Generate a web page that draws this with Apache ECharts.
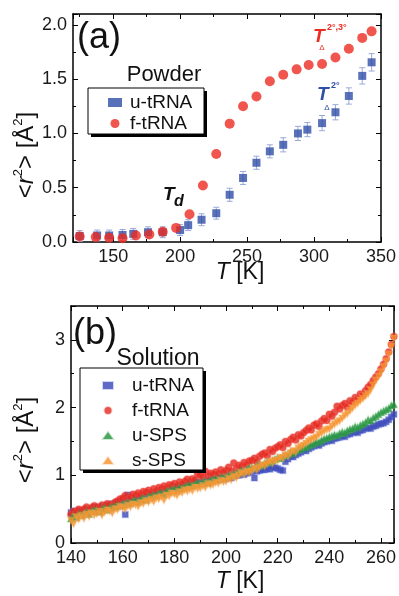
<!DOCTYPE html>
<html><head><meta charset="utf-8">
<script src="https://cdn.jsdelivr.net/npm/echarts@6/dist/echarts.min.js"></script>
<style>html,body{margin:0;padding:0;background:#fff}#c{width:399px;height:596px}</style>
</head><body><div id="c"></div>
<script>
// ---------- Panel (a): Powder ----------
const powderTempU = [125,138,147,157,165,176,187,200,206,216,227,237,247,257,267,277,288,295,306,316,326,336,343];
const powderU     = [0.055,0.06,0.06,0.065,0.075,0.09,0.09,0.11,0.155,0.205,0.265,0.435,0.59,0.73,0.835,0.895,1.0,1.035,1.095,1.195,1.345,1.53,1.655];
const powderErrU  = [0.05,0.05,0.05,0.05,0.05,0.05,0.05,0.05,0.05,0.055,0.055,0.06,0.06,0.06,0.06,0.065,0.065,0.065,0.07,0.07,0.075,0.075,0.08];
const powderTempF = [125,137,147,157,167,177,187,197,207,217,227,237,247,257,267,277,287,296,306,316,326,336,343];
const powderF     = [0.05,0.045,0.04,0.035,0.06,0.07,0.095,0.13,0.255,0.52,0.81,1.09,1.25,1.34,1.48,1.54,1.59,1.63,1.64,1.70,1.78,1.88,1.94];

// ---------- Panel (b): Solution ----------
const solTemp = [140,141,142,143,144,145,146,147,148,149,150,151,152,153,154,155,156,157,158,159,
160,161,162,163,164,165,166,167,168,169,170,171,172,173,174,175,176,177,178,179,
180,181,182,183,184,185,186,187,188,189,190,191,192,193,194,195,196,197,198,199,
200,201,202,203,204,205,206,207,208,209,210,211,212,213,214,215,216,217,218,219,
220,221,222,223,224,225,226,227,228,229,230,231,232,233,234,235,236,237,238,239,
240,241,242,243,244,245,246,247,248,249,250,251,252,253,254,255,256,257,258,259,
260,261,262,263,264,265];
const solUtRNA = [0.45,0.47,0.44,0.48,0.46,0.47,0.50,0.48,0.51,0.53,
0.52,0.50,0.54,0.53,0.56,0.55,0.58,0.57,0.60,0.59,
0.62,0.42,0.71,0.63,0.64,0.65,0.67,0.66,0.69,0.68,
0.70,0.72,0.71,0.74,0.73,0.75,0.77,0.76,0.79,0.78,
0.80,0.82,0.81,0.83,0.85,0.84,0.86,0.87,0.88,0.90,
0.88,0.89,0.91,0.90,0.93,0.92,0.94,0.93,0.96,0.95,
0.95,0.97,0.96,0.99,1.00,1.00,1.02,1.01,1.03,1.04,
1.05,0.96,1.06,1.07,1.08,1.08,1.10,1.09,1.12,1.11,
1.10,1.08,1.07,1.20,1.24,1.28,1.27,1.30,1.32,1.34,
1.37,1.36,1.39,1.41,1.43,1.45,1.44,1.47,1.49,1.50,
1.52,1.51,1.54,1.55,1.56,1.58,1.57,1.60,1.61,1.63,
1.64,1.63,1.66,1.67,1.69,1.70,1.69,1.72,1.73,1.75,
1.76,1.77,1.79,1.82,1.86,1.90];
const solFtRNA = [0.42,0.47,0.45,0.50,0.48,0.50,0.53,0.49,0.52,0.55,
0.53,0.51,0.56,0.54,0.58,0.57,0.55,0.60,0.62,0.65,
0.66,0.70,0.64,0.68,0.72,0.70,0.74,0.71,0.76,0.75,
0.78,0.74,0.80,0.77,0.82,0.80,0.84,0.81,0.86,0.85,
0.88,0.84,0.90,0.87,0.91,0.94,0.90,0.95,0.93,1.02,
1.00,0.97,1.06,0.99,1.03,1.01,1.05,1.02,1.08,1.04,
1.07,1.12,1.06,1.18,1.10,1.15,1.13,1.19,1.16,1.21,
1.22,1.25,1.20,1.28,1.31,1.33,1.29,1.38,1.35,1.40,
1.42,1.45,1.41,1.50,1.47,1.53,1.56,1.52,1.60,1.58,
1.63,1.66,1.70,1.67,1.74,1.76,1.72,1.80,1.84,1.81,
1.90,1.87,1.93,2.02,1.98,2.03,2.06,2.01,2.10,2.08,
2.15,2.12,2.20,2.18,2.25,2.30,2.34,2.40,2.45,2.50,
2.57,2.64,2.72,2.82,2.93,3.05];
const solUSPS = [0.36,0.40,0.38,0.43,0.41,0.44,0.46,0.43,0.47,0.49,
0.48,0.46,0.50,0.52,0.49,0.52,0.54,0.53,0.56,0.55,
0.58,0.57,0.60,0.59,0.62,0.63,0.61,0.65,0.66,0.64,
0.69,0.68,0.71,0.70,0.73,0.74,0.72,0.77,0.76,0.79,
0.80,0.78,0.82,0.81,0.83,0.84,0.86,0.85,0.87,0.89,
0.88,0.90,0.91,0.89,0.93,0.93,0.95,0.94,0.97,0.96,
0.98,1.00,0.99,1.02,1.03,1.04,1.07,1.06,1.09,1.10,
1.12,1.11,1.14,1.16,1.15,1.18,1.20,1.19,1.22,1.24,
1.26,1.25,1.28,1.30,1.31,1.34,1.33,1.36,1.38,1.39,
1.42,1.41,1.44,1.46,1.47,1.50,1.49,1.52,1.54,1.55,
1.57,1.58,1.60,1.59,1.62,1.64,1.63,1.66,1.68,1.69,
1.72,1.71,1.74,1.76,1.78,1.82,1.81,1.85,1.87,1.90,
1.93,1.95,1.97,1.99,2.03,2.05];
const solSSPS = [0.33,0.28,0.38,0.35,0.40,0.36,0.42,0.39,0.44,0.41,
0.43,0.46,0.41,0.45,0.48,0.47,0.44,0.50,0.49,0.53,
0.52,0.50,0.55,0.53,0.57,0.56,0.54,0.59,0.58,0.62,
0.60,0.64,0.61,0.66,0.65,0.68,0.63,0.70,0.69,0.73,
0.72,0.70,0.75,0.74,0.78,0.76,0.79,0.77,0.82,0.80,
0.81,0.84,0.82,0.87,0.85,0.86,0.89,0.88,0.92,0.90,
0.91,0.95,0.93,0.98,0.96,1.00,1.03,1.01,1.05,1.04,
1.06,1.10,1.08,1.12,1.15,1.14,1.17,1.20,1.18,1.22,
1.22,1.26,1.25,1.30,1.28,1.33,1.36,1.34,1.40,1.42,
1.44,1.47,1.50,1.52,1.54,1.56,1.60,1.62,1.65,1.67,
1.68,1.72,1.75,1.78,1.80,1.84,1.88,1.91,1.95,1.99,
2.03,2.06,2.10,2.13,2.17,2.20,2.26,2.33,2.40,2.46,
2.52,2.60,2.68,2.78,2.90,3.02];

const FONT = '"Liberation Sans", Arial, sans-serif';
const BLUE = '#2f4ea6', RED = '#ec2b22', GREEN = '#22903a', ORANGE = '#f5922a';
const BLUE_B = '#3b46b4', RED_B = '#e5281f';

function pairs(xs, ys) { return xs.map((x, i) => [x, ys[i]]); }

function frameAxis(gridIndex, position, min, max, interval, showLabel, labelFmt) {
  const a = {
    gridIndex, type: 'value', position, min, max,
    axisLine: { onZero: false, lineStyle: { color: '#000', width: 1.5 } },
    axisTick: { inside: true, length: 5, lineStyle: { color: '#000', width: 1 } },
    minorTick: { show: true, splitNumber: 2, length: 3, lineStyle: { color: '#000', width: 1 } },
    splitLine: { show: false }, minorSplitLine: { show: false },
    axisLabel: { show: showLabel, showMaxLabel: false, margin: 6, fontSize: 18, color: '#1a1a1a', fontFamily: FONT, formatter: labelFmt }
  };
  if (interval != null) a.interval = interval;
  return a;
}

const xFmtA = v => (v % 50 === 0 ? String(v) : '');
const yFmtA = v => (Math.abs(v * 2 - Math.round(v * 2)) < 1e-6 ? v.toFixed(1) : '');
const xFmtB = v => (v % 20 === 0 ? String(v) : '');
const yFmtB = v => (Number.isInteger(v) ? String(v) : '');

const xA = frameAxis(0, 'bottom', 120, 350, null, true, xFmtA);
xA.splitNumber = 5;
xA.axisLabel.showMaxLabel = true;
xA.axisLabel.showMinLabel = false;
const xA2 = frameAxis(0, 'top', 120, 350, null, false);
xA2.splitNumber = 5;

const errColor = '#9ba8d8';

function legendBox(x, y, w, h) {
  return [
    { type: 'rect', z: 5, shape: { x: x + 3, y: y + 3, width: w, height: h }, style: { fill: '#000' } },
    { type: 'rect', z: 6, shape: { x: x, y: y, width: w, height: h }, style: { fill: '#fff', stroke: '#000', lineWidth: 1 } }
  ];
}

const legendCommon = {
  orient: 'vertical', z: 20, selectedMode: false, backgroundColor: 'transparent', borderWidth: 0
};

const option = {
  animation: false,
  backgroundColor: '#ffffff',
  grid: [
    { left: 73, top: 14, width: 309, height: 228 },
    { left: 71, top: 306, width: 323, height: 237 }
  ],
  xAxis: [
    xA, xA2,
    frameAxis(1, 'bottom', 140, 265, 20, true, xFmtB),
    frameAxis(1, 'top', 140, 265, 20, false)
  ],
  yAxis: [
    frameAxis(0, 'left', 0, 2.1, 0.5, true, yFmtA),
    frameAxis(0, 'right', 0, 2.1, 0.5, false),
    frameAxis(1, 'left', 0, 3.5, 1, true, yFmtB),
    frameAxis(1, 'right', 0, 3.5, 1, false)
  ],
  legend: [
    Object.assign({}, legendCommon, {
      data: ['u-tRNA', 'f-tRNA'], left: 88, top: 88,
      padding: [5, 12, 4, 20], itemGap: 2, itemWidth: 14, itemHeight: 9,
      textStyle: { fontSize: 19, lineHeight: 18, fontFamily: FONT, color: '#111', padding: [0, 0, 0, 3] }
    }),
    Object.assign({}, legendCommon, {
      data: ['u-tRNA ', 'f-tRNA ', 'u-SPS', 's-SPS'], left: 80, top: 368,
      padding: [8, 10, 4, 22], itemGap: 6, itemWidth: 10, itemHeight: 7,
      textStyle: { fontSize: 19, lineHeight: 18, fontFamily: FONT, color: '#111', padding: [0, 0, 0, 14] }
    })
  ],
  series: [
    {
      type: 'custom', xAxisIndex: 0, yAxisIndex: 0, silent: true, z: 1,
      data: powderTempU.map((t, i) => [t, powderU[i], powderErrU[i]]),
      renderItem(params, api) {
        const x = api.value(0), y = api.value(1), e = api.value(2);
        const top = api.coord([x, y + e]), bot = api.coord([x, y - e]);
        const w = 3;
        const st = { stroke: errColor, lineWidth: 1 };
        return { type: 'group', children: [
          { type: 'line', shape: { x1: top[0], y1: top[1], x2: bot[0], y2: bot[1] }, style: st },
          { type: 'line', shape: { x1: top[0] - w, y1: top[1], x2: top[0] + w, y2: top[1] }, style: st },
          { type: 'line', shape: { x1: bot[0] - w, y1: bot[1], x2: bot[0] + w, y2: bot[1] }, style: st }
        ] };
      }
    },
    { name: 'u-tRNA', type: 'scatter', xAxisIndex: 0, yAxisIndex: 0, symbol: 'rect', symbolSize: 8,
      itemStyle: { color: BLUE }, data: pairs(powderTempU, powderU), z: 2 },
    { name: 'f-tRNA', type: 'scatter', xAxisIndex: 0, yAxisIndex: 0, symbol: 'circle', symbolSize: 10,
      itemStyle: { color: RED }, data: pairs(powderTempF, powderF), z: 3 },

    { name: 'u-tRNA ', type: 'scatter', xAxisIndex: 2, yAxisIndex: 2, symbol: 'rect', symbolSize: 6,
      itemStyle: { color: BLUE_B, borderColor: 'rgba(90,110,220,0.35)', borderWidth: 1.5 }, data: pairs(solTemp, solUtRNA) },
    { name: 'f-tRNA ', type: 'scatter', xAxisIndex: 2, yAxisIndex: 2, symbol: 'circle', symbolSize: 7,
      itemStyle: { color: RED_B, borderColor: 'rgba(240,90,80,0.35)', borderWidth: 1.5 }, data: pairs(solTemp, solFtRNA) },
    { name: 'u-SPS', type: 'scatter', xAxisIndex: 2, yAxisIndex: 2, symbol: 'triangle', symbolSize: 7,
      itemStyle: { color: GREEN, borderColor: 'rgba(80,180,100,0.35)', borderWidth: 1.5 }, data: pairs(solTemp, solUSPS) },
    { name: 's-SPS', type: 'scatter', xAxisIndex: 2, yAxisIndex: 2, symbol: 'triangle', symbolRotate: 180, symbolSize: 7,
      itemStyle: { color: ORANGE, borderColor: 'rgba(250,170,90,0.35)', borderWidth: 1.5 }, data: pairs(solTemp, solSSPS) }
  ],
  graphic: [
    ...legendBox(88, 88, 116, 46),
    ...legendBox(80, 368, 123, 102),
    // panel (a) texts
    { type: 'text', x: 77, y: 38, style: { text: '(a)', fontSize: 36, fontFamily: FONT, fill: '#111', align: 'left', verticalAlign: 'middle' } },
    { type: 'text', x: 164, y: 75, style: { text: 'Powder', fontSize: 22, fontFamily: FONT, fill: '#111', align: 'center', verticalAlign: 'middle' } },
    { type: 'text', x: 163, y: 195, style: { text: 'T', fontSize: 19, fontWeight: 'bold', fontStyle: 'italic', fontFamily: FONT, fill: '#111', align: 'left', verticalAlign: 'middle' } },
    { type: 'text', x: 174, y: 202, style: { text: 'd', fontSize: 16, fontWeight: 'bold', fontStyle: 'italic', fontFamily: FONT, fill: '#111', align: 'left', verticalAlign: 'middle' } },
    { type: 'text', x: 313, y: 37, style: { text: 'T', fontSize: 19, fontWeight: 'bold', fontStyle: 'italic', fontFamily: FONT, fill: RED, align: 'left', verticalAlign: 'middle' } },
    { type: 'text', x: 327, y: 28, style: { text: '2°,3°', fontSize: 9, fontWeight: 'bold', fontFamily: FONT, fill: RED, align: 'left', verticalAlign: 'middle' } },
    { type: 'text', x: 322, y: 48, style: { text: 'Δ', fontSize: 8, fontFamily: FONT, fill: RED, align: 'center', verticalAlign: 'middle' } },
    { type: 'text', x: 317, y: 95, style: { text: 'T', fontSize: 19, fontWeight: 'bold', fontStyle: 'italic', fontFamily: FONT, fill: BLUE, align: 'left', verticalAlign: 'middle' } },
    { type: 'text', x: 331, y: 86, style: { text: '2°', fontSize: 9, fontWeight: 'bold', fontFamily: FONT, fill: BLUE, align: 'left', verticalAlign: 'middle' } },
    { type: 'text', x: 327, y: 108, style: { text: 'Δ', fontSize: 8, fontFamily: FONT, fill: BLUE, align: 'center', verticalAlign: 'middle' } },
    // axis titles (a)
    { type: 'text', x: 26, y: 155, rotation: Math.PI / 2, style: {
        text: '<{i|r}{s|2}> [Å{s|2}]', fontSize: 24, lineHeight: 28, fontFamily: FONT, fill: '#111', align: 'center', verticalAlign: 'middle',
        rich: { i: { fontStyle: 'italic', fontSize: 24, lineHeight: 28, fontFamily: FONT, fill: '#111' }, s: { fontSize: 13, lineHeight: 13, verticalAlign: 'top', fontFamily: FONT, fill: '#111' } } } },
    { type: 'text', x: 240, y: 273, style: {
        text: '{i|T} [K]', fontSize: 23, fontFamily: FONT, fill: '#111', align: 'center', verticalAlign: 'middle',
        rich: { i: { fontStyle: 'italic', fontSize: 23, fontFamily: FONT, fill: '#111' } } } },
    // panel (b) texts
    { type: 'text', x: 73, y: 334, style: { text: '(b)', fontSize: 36, fontFamily: FONT, fill: '#111', align: 'left', verticalAlign: 'middle' } },
    { type: 'text', x: 158, y: 359, style: { text: 'Solution', fontSize: 23, fontFamily: FONT, fill: '#111', align: 'center', verticalAlign: 'middle' } },
    { type: 'text', x: 26, y: 440, rotation: Math.PI / 2, style: {
        text: '<{i|r}{s|2}> [Å{s|2}]', fontSize: 24, lineHeight: 28, fontFamily: FONT, fill: '#111', align: 'center', verticalAlign: 'middle',
        rich: { i: { fontStyle: 'italic', fontSize: 24, lineHeight: 28, fontFamily: FONT, fill: '#111' }, s: { fontSize: 13, lineHeight: 13, verticalAlign: 'top', fontFamily: FONT, fill: '#111' } } } },
    { type: 'text', x: 240, y: 582, style: {
        text: '{i|T} [K]', fontSize: 23, fontFamily: FONT, fill: '#111', align: 'center', verticalAlign: 'middle',
        rich: { i: { fontStyle: 'italic', fontSize: 23, fontFamily: FONT, fill: '#111' } } } }
  ]
};

const chart = echarts.init(document.getElementById('c'), null, { renderer: 'canvas' });
chart.setOption(option);
</script>
</body></html>
